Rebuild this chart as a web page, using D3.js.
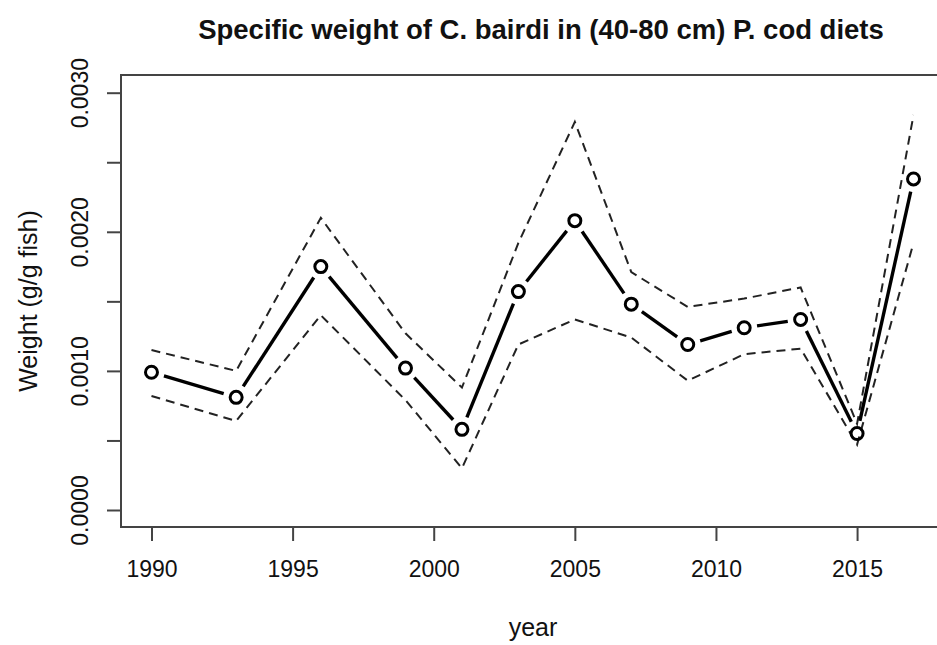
<!DOCTYPE html>
<html>
<head>
<meta charset="utf-8">
<script src="https://cdn.jsdelivr.net/npm/d3@7"></script>
<style>
  html, body { margin: 0; padding: 0; background: #fff; }
  svg { display: block; }
  text { font-family: "Liberation Sans", Arial, Helvetica, sans-serif; fill: #111; }
</style>
</head>
<body>
<svg id="chart" width="937" height="645"></svg>
<script>
// ---- data ----
const years = [1990, 1993, 1996, 1999, 2001, 2003, 2005, 2007, 2009, 2011, 2013, 2015, 2017];
const meanWeight = [0.00099, 0.00081, 0.00175, 0.00102, 0.00058, 0.00157, 0.00208, 0.00148, 0.00119, 0.00131, 0.00137, 0.00055, 0.00238];
const upperWeight = [0.00115, 0.00100, 0.00210, 0.00127, 0.00088, 0.00192, 0.00279, 0.00171, 0.00146, 0.00152, 0.00160, 0.00062, 0.00284];
const lowerWeight = [0.00082, 0.00064, 0.00140, 0.00079, 0.00030, 0.00119, 0.00137, 0.00124, 0.00093, 0.00112, 0.00116, 0.00047, 0.00192];
const xTicks = [1990, 1995, 2000, 2005, 2010, 2015];
const yTicks = [0, 0.0005, 0.0010, 0.0015, 0.0020, 0.0025, 0.0030];
const yTickLabels = ["0.0000", "", "0.0010", "", "0.0020", "", "0.0030"];
const titleText = "Specific weight of C. bairdi in (40-80 cm) P. cod diets";
const xTitle = "year";
const yTitle = "Weight (g/g fish)";

// ---- layout ----
const svg = d3.select("#chart");
const box = { left: 121, right: 944, top: 75, bottom: 527 };

const x = d3.scaleLinear()
  .domain([1988.92, 2018.08])
  .range([box.left, box.right]);
const y = d3.scaleLinear()
  .domain([0, 0.003])
  .range([510, 92.7]);

// background
svg.append("rect").attr("width", 937).attr("height", 645).attr("fill", "#fff");

// plot box
svg.append("rect")
  .attr("x", box.left).attr("y", box.top)
  .attr("width", box.right - box.left).attr("height", box.bottom - box.top)
  .attr("fill", "none").attr("stroke", "#444").attr("stroke-width", 2);

// x axis
const xAxis = d3.axisBottom(x).tickValues(xTicks).tickSize(14).tickPadding(20).tickFormat(d3.format("d"));
const gx = svg.append("g").attr("transform", `translate(0,${box.bottom})`).call(xAxis);
gx.select(".domain").remove();
gx.selectAll(".tick line").attr("stroke", "#444").attr("stroke-width", 2);
gx.selectAll(".tick text").attr("font-size", 23).attr("fill", "#111")
  .attr("font-family", "Liberation Sans, Arial, sans-serif");

// y axis
const yAxis = d3.axisLeft(y).tickValues(yTicks).tickSize(14).tickFormat((d, i) => yTickLabels[i]);
const gy = svg.append("g").attr("transform", `translate(${box.left},0)`).call(yAxis);
gy.select(".domain").remove();
gy.selectAll(".tick line").attr("stroke", "#444").attr("stroke-width", 2);
gy.selectAll(".tick text")
  .attr("font-size", 23).attr("fill", "#111")
  .attr("font-family", "Liberation Sans, Arial, sans-serif")
  .attr("x", null).attr("dy", null)
  .attr("text-anchor", "middle")
  .attr("transform", "translate(-33,0) rotate(-90)");

// titles
svg.append("text").attr("x", 541).attr("y", 39)
  .attr("text-anchor", "middle").attr("font-size", 27.5).attr("font-weight", "bold")
  .text(titleText);
svg.append("text").attr("x", 533).attr("y", 636)
  .attr("text-anchor", "middle").attr("font-size", 25).text(xTitle);
svg.append("text")
  .attr("transform", `translate(37,${(box.top + box.bottom) / 2}) rotate(-90)`)
  .attr("text-anchor", "middle").attr("font-size", 25).text(yTitle);

// dashed bounds
const line = d3.line().x(d => x(d[0])).y(d => y(d[1]));
[upperWeight, lowerWeight].forEach(arr => {
  svg.append("path")
    .datum(years.map((yr, i) => [yr, arr[i]]))
    .attr("d", line)
    .attr("fill", "none").attr("stroke", "#222").attr("stroke-width", 2)
    .attr("stroke-dasharray", "9,6");
});

// mean line with gaps around points (type = "b")
const gap = 13;
const pts = years.map((yr, i) => [x(yr), y(meanWeight[i])]);
for (let i = 0; i < pts.length - 1; i++) {
  const [x0, y0] = pts[i], [x1, y1] = pts[i + 1];
  const dx = x1 - x0, dy = y1 - y0, len = Math.hypot(dx, dy);
  if (len <= 2 * gap) continue;
  const ux = dx / len, uy = dy / len;
  svg.append("line")
    .attr("x1", x0 + ux * gap).attr("y1", y0 + uy * gap)
    .attr("x2", x1 - ux * gap).attr("y2", y1 - uy * gap)
    .attr("stroke", "#000").attr("stroke-width", 3.4);
}

// points
svg.selectAll("circle.pt").data(years.map((yr, i) => [yr, meanWeight[i]]))
  .enter().append("circle").attr("class", "pt")
  .attr("cx", d => x(d[0])).attr("cy", d => y(d[1])).attr("r", 6)
  .attr("fill", "none").attr("stroke", "#000").attr("stroke-width", 3);
</script>
</body>
</html>
